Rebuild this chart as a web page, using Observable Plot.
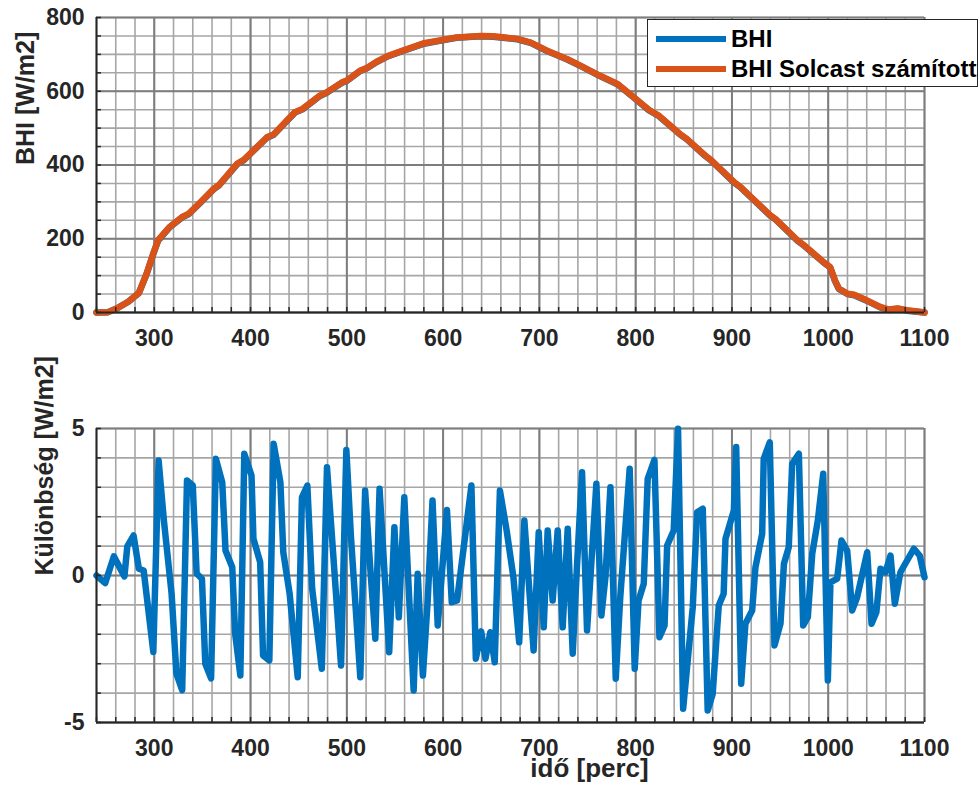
<!DOCTYPE html>
<html>
<head>
<meta charset="utf-8">
<script src="https://cdn.jsdelivr.net/npm/d3@7"></script>
<script src="https://cdn.jsdelivr.net/npm/@observablehq/plot@0.6"></script>
<style>
  body { margin: 0; background: #fff; }
  #fig { position: relative; width: 980px; height: 787px; font-family: "Liberation Sans", Arial, sans-serif; overflow: hidden; }
  #top, #bot { position: absolute; left: 0; }
  #top { top: 0; }
  #bot { top: 365px; }
  #legend { position: absolute; left: 647px; top: 19px; width: 331px; height: 68px; box-sizing: border-box;
            border: 1px solid #262626; background: #fff; }
  .sw { position: absolute; left: 8px; width: 70px; height: 6px; }
  .lab { position: absolute; left: 83px; font-size: 24px; font-weight: bold; color: #000; white-space: nowrap; line-height: 1; }
</style>
</head>
<body>
<div id="fig">
  <div id="top"></div>
  <div id="bot"></div>
  <div id="legend"></div>
</div>
<script>
// ---- data: upper panel (time [perc], BHI [W/m2]) ----
const bhiTime = [240, 252, 261, 273, 284, 292, 299, 304, 316, 329, 336, 348, 362, 367, 386, 393, 417, 424, 446, 454,
  472, 479, 495, 500, 514, 520, 531, 543, 556, 580, 595, 614, 639, 652, 677, 691, 708, 729, 743, 763,
  781, 798, 814, 824, 846, 853, 872, 878, 902, 909, 940, 945, 968, 975, 995, 1002, 1007, 1011, 1020, 1027,
  1040, 1054, 1063, 1072, 1082, 1100];
const bhiMeasured = [0, 1, 11, 29, 53, 104, 159, 195, 231, 258, 267, 298, 335, 344, 402, 413, 474, 482, 542, 551,
  587, 596, 623, 628, 655, 661, 679, 695, 707, 729, 736, 745, 749, 748, 741, 731, 709, 686, 668, 641,
  619, 583, 548, 533, 483, 470, 425, 413, 353, 339, 262, 253, 195, 181, 136, 122, 86, 64, 50, 47,
  32, 14, 7, 10, 5, 0];
const bhiSolcast = [0, 1, 11, 29, 53, 105, 160, 196, 232, 259, 268, 299, 336, 345, 403, 414, 475, 483, 543, 552,
  588, 597, 624, 629, 656, 662, 680, 696, 708, 730, 737, 746, 750, 749, 742, 732, 710, 687, 669, 642,
  620, 584, 549, 534, 484, 471, 426, 414, 354, 340, 263, 254, 196, 182, 137, 123, 87, 65, 51, 48,
  33, 15, 8, 11, 6, 0];

// ---- data: lower panel (time [perc], difference [W/m2]) ----
const diffTime = [240, 249, 258, 269, 272, 278.5, 284, 289, 299, 304.5, 310, 318, 323, 329, 334, 340, 344, 349.5, 353, 359,
  364, 370.6, 374, 381, 384, 389.4, 393.5, 401, 403, 410, 413, 419.5, 424, 431, 434, 440.6, 449, 453.4, 459, 464,
  474, 479.4, 484.6, 494, 499.5, 504.3, 514, 519, 524.4, 529.6, 534, 539, 544, 549.4, 554, 559.7, 569.4, 573.6, 579, 584,
  589, 594.4, 604, 609, 614.5, 621, 629.4, 634, 639.5, 644, 649, 653.6, 659, 666, 673, 679, 684.4, 694, 699.3, 704.5,
  708.6, 713.8, 719, 724.2, 729.4, 734.6, 739, 744.3, 749.5, 759.2, 764.4, 768.6, 773.8, 779.3, 784, 793.8, 799, 803, 808.4, 812.5,
  819.5, 824.7, 830, 832.7, 839.5, 844, 849.3, 859.3, 863.8, 869.7, 874.8, 880, 886.3, 891.4, 893.3, 902, 904.4, 909.6, 914, 921,
  924.4, 931.4, 933, 939.3, 944.2, 950.4, 954, 959, 962.6, 969.5, 974, 978.8, 983.4, 989.2, 994.8, 999.6, 1002.3, 1009.3, 1013.8, 1019.7,
  1024.9, 1030, 1040.5, 1045, 1050, 1054.3, 1059.5, 1064.7, 1069.2, 1075, 1080, 1089, 1095, 1100];
const diffValue = [0, -0.26, 0.65, -0.03, 0.99, 1.36, 0.23, 0.17, -2.6, 3.91, 1.87, -0.62, -3.34, -3.9, 3.23, 3.06, 0.07, -0.11, -3.0, -3.5,
  3.97, 3.17, 0.85, 0.28, -1.98, -3.4, 4.14, 3.4, 1.25, 0.45, -2.72, -2.89, 4.48, 3.17, 0.79, -0.62, -3.46, 2.66, 3.06, -0.45,
  -3.17, 3.68, 1.3, -3.06, 4.27, 1.3, -3.46, 2.89, 0.23, -2.15, 2.95, 0.17, -2.61, 1.64, -1.42, 2.66, -3.91, 0.06, -3.4, -0.85,
  2.55, -1.7, 2.23, -0.91, -0.85, 0.85, 3.06, -2.83, -1.9, -2.83, -1.93, -2.95, 2.89, 1.53, -0.06, -2.27, 1.87, -2.55, 1.47, -1.76,
  1.53, -0.85, 1.53, -1.76, 1.59, -2.66, 0.28, 3.51, -1.87, 3.12, -1.36, -0.06, 3.0, -3.51, -0.74, 3.63, -3.17, -0.85, -0.28, 3.29,
  3.93, -2.1, -1.7, 1.02, 1.53, 4.99, -4.53, -1.08, 2.15, 2.27, -4.59, -4.03, -1.02, -0.62, 1.25, 2.21, 4.37, -3.68, -1.64, -1.19,
  0.28, 1.42, 3.97, 4.53, -2.38, -1.64, 0.4, 0.96, 3.8, 4.14, -1.7, -1.42, 0.74, 1.87, 3.46, -3.57, -0.23, -0.11, 1.19, 0.85,
  -1.19, -0.74, 0.79, -1.64, -1.25, 0.23, 0.11, 0.68, -0.96, 0.11, 0.4, 0.91, 0.68, -0.06];

// ---- ticks / labels ----
const xMajorTicks = [300, 400, 500, 600, 700, 800, 900, 1000, 1100];
const xMinorTicks = d3.range(240, 1101, 20);
const yTopMajor = [0, 200, 400, 600, 800];
const yTopMinor = d3.range(0, 801, 50);
const yBotMajor = [-5, 0, 5];
const yBotMinor = d3.range(-5, 6, 1);
const seriesNames = ["BHI", "BHI Solcast számított"];
const seriesColors = ["#0072BD", "#D95319"];
const yLabelTop = "BHI [W/m2]";
const yLabelBot = "Különbség [W/m2]";
const xLabel = "idő [perc]";

const topData = bhiTime.map((t, i) => ({t, meas: bhiMeasured[i], sol: bhiSolcast[i]}));
const botData = diffTime.map((t, i) => ({t, v: diffValue[i]}));

const INK = "#262626";
const FONT = "'Liberation Sans', Arial, sans-serif";
const LW = 6.5;

function panel({height, mt, mb, yDomain, yMinor, yMajor, yLabel, yLabelDx, lines, extra}) {
  return Plot.plot({
    width: 980, height, marginLeft: 96, marginRight: 56, marginTop: mt, marginBottom: mb,
    x: {domain: [240, 1100]},
    y: {domain: yDomain},
    style: {fontFamily: FONT, background: "white", overflow: "visible"},
    marks: [
      Plot.gridX(xMinorTicks, {stroke: "#a6a6a6", strokeOpacity: 1, strokeWidth: 1.6}),
      Plot.gridY(yMinor, {stroke: "#a6a6a6", strokeOpacity: 1, strokeWidth: 1.6}),
      Plot.gridX(xMajorTicks, {stroke: "#7d7d7d", strokeOpacity: 1, strokeWidth: 2}),
      Plot.gridY(yMajor, {stroke: "#7d7d7d", strokeOpacity: 1, strokeWidth: 2}),
      ...lines,
      Plot.axisX(xMinorTicks, {tickSize: -5, tickFormat: () => "", label: null, color: INK, strokeWidth: 1.5}),
      Plot.axisY(yMinor, {tickSize: -5, tickFormat: () => "", label: null, color: INK, strokeWidth: 1.5}),
      Plot.axisX(xMajorTicks, {tickSize: 0, tickPadding: 17, tickFormat: d => String(d), label: null, color: INK,
        fontSize: 23, fontWeight: "bold"}),
      Plot.axisY(yMajor, {tickSize: 0, tickPadding: 12, tickFormat: d => String(d), label: null, color: INK,
        fontSize: 23, fontWeight: "bold"}),
      Plot.ruleX([240], {stroke: INK, strokeWidth: 2}),
      Plot.ruleY([yDomain[0]], {stroke: INK, strokeWidth: 2}),
      Plot.text([yLabel], {frameAnchor: "left", dx: yLabelDx, rotate: -90, fontSize: 25, fontWeight: "bold", fill: INK}),
      ...(extra || [])
    ]
  });
}

const topPlot = panel({
  height: 365, mt: 17, mb: 53, yDomain: [0, 800], yMinor: yTopMinor, yMajor: yTopMajor,
  yLabel: yLabelTop, yLabelDx: -71,
  lines: [
    Plot.line(topData, {x: "t", y: "meas", stroke: seriesColors[0], strokeWidth: LW}),
    Plot.line(topData, {x: "t", y: "sol", stroke: seriesColors[1], strokeWidth: LW})
  ]
});
document.getElementById("top").appendChild(topPlot);

const botPlot = panel({
  height: 422, mt: 63, mb: 65, yDomain: [-5, 5], yMinor: yBotMinor, yMajor: yBotMajor,
  yLabel: yLabelBot, yLabelDx: -52,
  lines: [Plot.line(botData, {x: "t", y: "v", stroke: seriesColors[0], strokeWidth: LW})],
  extra: [Plot.text([xLabel], {frameAnchor: "bottom", dx: 79, dy: 54, fontSize: 26, fontWeight: "bold", fill: INK})]
});
document.getElementById("bot").appendChild(botPlot);

// legend
const leg = document.getElementById("legend");
seriesNames.forEach((name, i) => {
  const cy = i === 0 ? 20 : 50;
  const sw = document.createElement("div");
  sw.className = "sw";
  sw.style.top = (cy - 3 - 1) + "px";
  sw.style.background = seriesColors[i];
  leg.appendChild(sw);
  const lab = document.createElement("div");
  lab.className = "lab";
  lab.style.top = (cy - 12 - 1) + "px";
  lab.textContent = name;
  leg.appendChild(lab);
});
</script>
</body>
</html>
